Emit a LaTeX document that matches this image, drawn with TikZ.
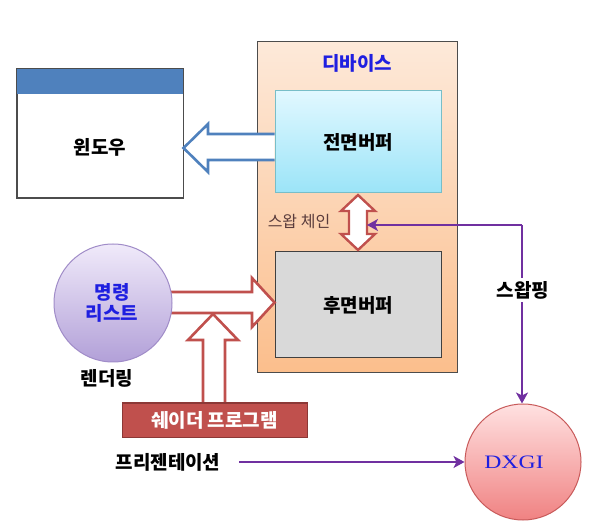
\documentclass[tikz,border=0pt]{standalone}
\usepackage{fontspec}
\setmainfont{Liberation Serif}
\newfontfamily\kr{Noto Sans CJK KR}
\newfontfamily\dxfont[FakeStretch=1.25]{Liberation Serif}
\usetikzlibrary{arrows.meta}
\definecolor{purp}{HTML}{7030A0}
\definecolor{redbr}{HTML}{C0504D}
\definecolor{reddk}{HTML}{8C3836}
\definecolor{winblue}{HTML}{4F81BD}
\definecolor{txtblue}{HTML}{1F1FE0}
\begin{document}
\begin{tikzpicture}[x=1pt,y=-1pt,
  krtext/.style={font=\kr\bfseries\fontsize{19}{22}\selectfont, text=black},
  boxbase/.style={draw, line width=1pt, inner sep=0pt},
  hollowblue/.style={draw=winblue, fill=white, line width=2.6pt, line join=miter},
  hollowred/.style={draw=redbr, fill=white, line width=2.6pt, line join=miter},
  purpline/.style={draw=purp, line width=2.4pt, -{Stealth[length=11pt,width=12pt,inset=3pt]}},
]
\useasboundingbox (0,0) rectangle (605,526);

% device box
\node[boxbase, draw=black!70, minimum width=200pt, minimum height=331pt,
      top color={rgb,255:red,253;green,233;blue,217}, bottom color={rgb,255:red,251;green,190;blue,140}] (device) at (357,207.5) {};
\node[font=\kr\bfseries\fontsize{19}{22}\selectfont, text=txtblue] (devlbl) at (357,63) {디바이스};

% front buffer
\node[boxbase, draw={rgb,255:red,120;green,190;blue,200}, minimum width=166pt, minimum height=102pt,
      top color={rgb,255:red,225;green,248;blue,255}, bottom color={rgb,255:red,155;green,228;blue,248}] (front) at (358,142) {};
\node[krtext] (frontlbl) at (358,142) {전면버퍼};

% back buffer
\node[boxbase, draw=black!75, fill={rgb,255:red,217;green,217;blue,217}, minimum width=166pt, minimum height=106pt] (back) at (358,305) {};
\node[krtext] (backlbl) at (358,305) {후면버퍼};

% window
\node[boxbase, draw=black!70, fill=white, minimum width=166pt, minimum height=129pt] (win) at (100,133.5) {};
\fill[winblue] (win.north west) rectangle ([yshift=-26pt]win.north east);
\draw[black!70, line width=1pt] (win.north west) rectangle (win.south east);
\node[krtext] (winlbl) at (100,147) {윈도우};

% blue hollow arrow front -> window
\draw[hollowblue] (front.west |- 0,134) -- (208,134) -- (208,124) -- (win.east |- 0,148) -- (208,172) -- (208,160) -- (front.west |- 0,160);

% swap chain double arrow
\draw[hollowred, line width=2.4pt] (358,195) -- (375,211) -- (367,211) -- (367,234) -- (375,234) -- (358,250) -- (341,234) -- (349,234) -- (349,211) -- (341,211) -- cycle;
\coordinate (swr) at (367,225);
\node[font=\kr\fontsize{16}{18}\selectfont, text={rgb,255:red,90;green,60;blue,60}] (swaplbl) at (299,222) {스왑 체인};

% red right arrow cmd -> back
\draw[hollowred] (150,292) -- (252,292) -- (252,278) -- (back.west |- 0,302.5) -- (252,327) -- (252,313) -- (150,313);

% command list circle
\node[circle, draw={rgb,255:red,160;green,140;blue,200}, line width=1pt, minimum size=118pt,
      top color={rgb,255:red,240;green,234;blue,250}, bottom color={rgb,255:red,178;green,160;blue,216}] (cmd) at (113,303) {};
\node[font=\kr\bfseries\fontsize{19}{21}\selectfont, text=txtblue, align=center] (cmdlbl) at (112,303) {명령\\리스트};
\node[krtext] (render) at (107,378) {렌더링};

% shader box
\node[boxbase, draw=reddk, fill=redbr, minimum width=185pt, minimum height=34pt] (shader) at (214.5,420) {};
\node[font=\kr\bfseries\fontsize{19}{21}\selectfont, text=white] (shaderlbl) at (214.5,420) {쉐이더 프로그램};

% red up arrow shader -> merge
\draw[hollowred] (203,402) -- (203,340) -- (188,340) -- (213,314) -- (238,340) -- (225,340) -- (225,402);

% DXGI circle
\node[circle, draw={rgb,255:red,200;green,90;blue,90}, line width=1pt, minimum size=116pt,
      top color={rgb,255:red,255;green,225;blue,225}, bottom color={rgb,255:red,240;green,130;blue,130}] (dxgi) at (523,462) {};
\node[font=\dxfont\fontsize{19}{22}\selectfont, text=txtblue] (dxgilbl) at (514,462) {DXGI};

% purple connectors
\coordinate (corner) at (522,225);
\draw[purpline] (corner) -- (swr);
\draw[purpline] (corner) -- (corner |- dxgi.north);
\node[krtext, fill=white, inner sep=3pt] (swapping) at (523,290) {스왑핑};

\node[krtext] (pres) at (168,462) {프리젠테이션};
\coordinate (presstart) at (239,462);
\draw[purpline] (presstart) -- (dxgi.west);
\end{tikzpicture}
\end{document}
